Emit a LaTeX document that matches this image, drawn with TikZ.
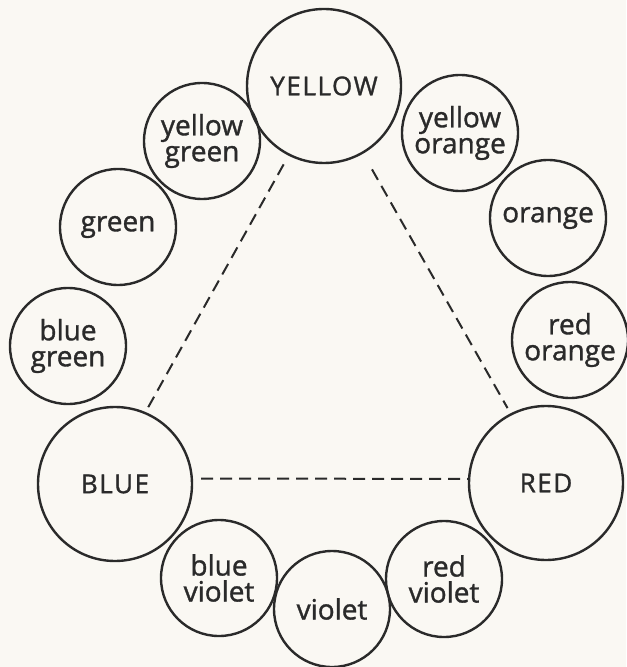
\documentclass[tikz,border=0pt]{standalone}
\usepackage{fontspec}
\setmainfont{Open Sans}
\newfontfamily\handfont[FakeBold=1.2]{Open Sans}
\newfontfamily\capsfont[FakeBold=1.2, LetterSpace=6]{Open Sans}
\usetikzlibrary{positioning}

\definecolor{paper}{HTML}{FAF8F3}
\definecolor{ink}{HTML}{2A2A2A}

\begin{document}
\begin{tikzpicture}[
        x=0.5pt, y=-0.5pt,
        every node/.style={circle, draw=ink, line width=1.2pt, inner sep=0pt, text=ink, align=center},
        hue/.style={minimum size=58pt, font=\handfont\fontsize{14}{13}\selectfont},
        primary/.style={minimum size=77pt, font=\capsfont\fontsize{13}{13}\selectfont},
        edge/.style={draw=ink, line width=1pt, dash pattern=on 6pt off 3.5pt},
    ]

    % === PAPER ===
    \fill[paper] (0,0) rectangle (626,667);
    \useasboundingbox (0,0) rectangle (626,667);

    % === PRIMARY COLOURS ===
    \node[primary] (yellow) at (324, 86) {YELLOW};
    \node[primary] (blue) at (115, 484) {BLUE};
    \node[primary] (red) at (546, 483) {RED};

    % === SECONDARY AND TERTIARY COLOURS ===
    \node[hue] (ygreen) at (202, 141) {yellow\\green};
    \node[hue] (green) at (118, 227) {green};
    \node[hue] (bgreen) at (68, 346) {blue\\green};
    \node[hue] (bviolet) at (219, 578) {blue\\violet};
    \node[hue] (violet) at (332, 609) {violet};
    \node[hue] (rviolet) at (444, 579) {red\\violet};
    \node[hue] (rorange) at (570, 340) {red\\orange};
    \node[hue] (orange) at (548, 218) {orange};
    \node[hue] (yorange) at (460, 133) {yellow\\orange};

    % === TRIANGLE ===
    \draw[edge, shorten <=5pt] (yellow.243) -- (blue.67);
    \draw[edge, shorten <=9pt, shorten >=3pt] (yellow.300) -- (red.117);
    \draw[edge, shorten <=4pt] (blue.4) -- (red.177);

\end{tikzpicture}
\end{document}
